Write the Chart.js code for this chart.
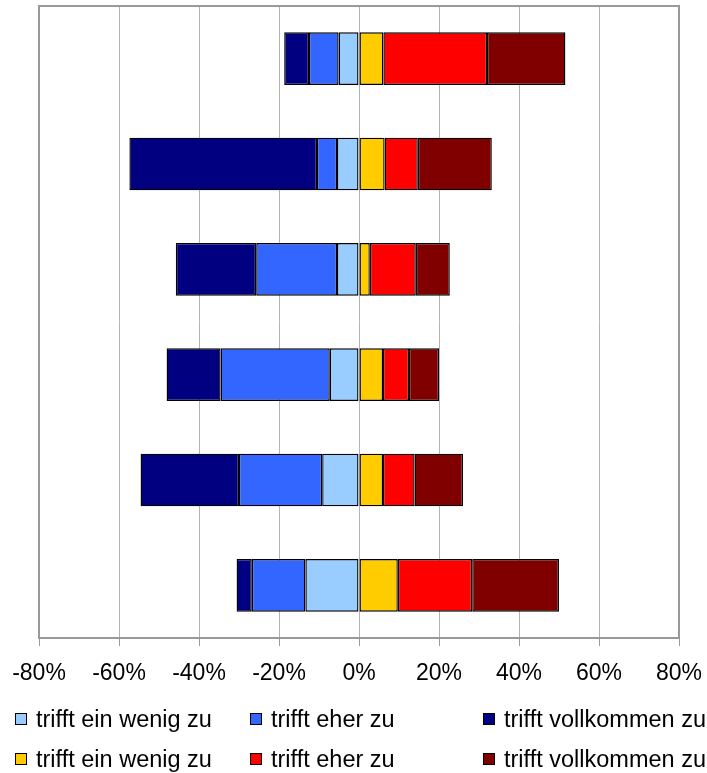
<!DOCTYPE html>
<html>
<head>
<meta charset="utf-8">
<script src="https://cdn.jsdelivr.net/npm/chart.js@4"></script>
<style>
    body { margin: 0; background: #fff; }
    #wrap { position: relative; width: 707px; height: 773px; }
    #legend { position: absolute; left: 0; top: 0; width: 707px; height: 773px; pointer-events: none;
              font-family: "Liberation Sans", Arial, sans-serif; font-size: 23.5px; color: #000; }
    .item { position: absolute; white-space: nowrap; line-height: 1; }
    .box { position: absolute; width: 10px; height: 10px; border: 1.5px solid #000; }
</style>
</head>
<body>
<div id="wrap">
    <canvas id="chart" width="707" height="773"></canvas>
    <div id="legend"></div>
</div>
<script>
// Categories (no labels shown in the picture)
const categories = ['1', '2', '3', '4', '5', '6'];

// Negative side (disagreement)
const weakNeg = [-5.1, -5.5, -5.5, -7.3, -9.2, -13.4];
const ratherNeg = [-7.4, -5.0, -20.2, -27.3, -20.8, -13.4];
const fullNeg = [-6.2, -46.9, -20.1, -13.5, -24.6, -3.8];

// Positive side (agreement)
const weakPos = [6.1, 6.4, 2.7, 6.0, 6.0, 9.7];
const ratherPos = [25.9, 8.3, 11.5, 6.5, 7.9, 18.6];
const fullPos = [19.6, 18.5, 8.5, 7.5, 12.1, 21.7];

const seriesNames = [
    'trifft ein wenig zu', 'trifft eher zu', 'trifft vollkommen zu',
    'trifft ein wenig zu', 'trifft eher zu', 'trifft vollkommen zu'
];
const seriesColors = ['#99CCFF', '#3366FF', '#000080', '#FFCC00', '#FF0000', '#800000'];
const seriesData = [weakNeg, ratherNeg, fullNeg, weakPos, ratherPos, fullPos];

const xTicks = [-80, -60, -40, -20, 0, 20, 40, 60, 80];

// Plot frame
const frame = {
    id: 'frame',
    beforeDatasetsDraw(chart) {
        const { ctx, chartArea: a } = chart;
        ctx.save();
        ctx.strokeStyle = '#999999';
        ctx.lineWidth = 2;
        ctx.strokeRect(a.left, a.top, a.right - a.left, a.bottom - a.top);
        ctx.restore();
    }
};

const datasets = seriesNames.map((name, i) => ({
    label: name,
    data: seriesData[i],
    backgroundColor: seriesColors[i],
    borderColor: '#000000',
    borderWidth: 1.4,
    borderSkipped: false,
    barPercentage: 0.5,
    categoryPercentage: 1.0
}));

new Chart(document.getElementById('chart'), {
    type: 'bar',
    data: { labels: categories, datasets: datasets },
    options: {
        indexAxis: 'y',
        responsive: false,
        animation: false,
        layout: { padding: { left: 39, right: 28, top: 6, bottom: 0 } },
        plugins: { legend: { display: false }, tooltip: { enabled: false } },
        scales: {
            x: {
                stacked: true,
                min: -80,
                max: 80,
                afterBuildTicks: (scale) => { scale.ticks = xTicks.map(v => ({ value: v })); },
                afterFit: (scale) => {
                    scale.height = 135;
                    scale.paddingLeft = 0;
                    scale.paddingRight = 0;
                },
                grid: { color: '#b3b3b3', lineWidth: 1, tickLength: 8, tickColor: '#999999' },
                border: { color: '#999999', width: 2 },
                ticks: {
                    padding: 14,
                    color: '#000',
                    font: { family: '"Liberation Sans", Arial, sans-serif', size: 23 },
                    callback: (v) => v + '%'
                }
            },
            y: {
                stacked: true,
                display: false
            }
        }
    },
    plugins: [frame]
});

// Legend in three columns, two rows
const legendCols = [15, 250, 483];
const legendRows = [713, 753];
const legend = document.getElementById('legend');
seriesNames.forEach((name, i) => {
    const col = i % 3;
    const row = Math.floor(i / 3);
    const box = document.createElement('div');
    box.className = 'box';
    box.style.left = legendCols[col] + 'px';
    box.style.top = legendRows[row] + 'px';
    box.style.background = seriesColors[i];
    legend.appendChild(box);

    const txt = document.createElement('div');
    txt.className = 'item';
    txt.style.left = (legendCols[col] + 21) + 'px';
    txt.style.top = (legendRows[row] - 5) + 'px';
    txt.textContent = name;
    legend.appendChild(txt);
});
</script>
</body>
</html>
